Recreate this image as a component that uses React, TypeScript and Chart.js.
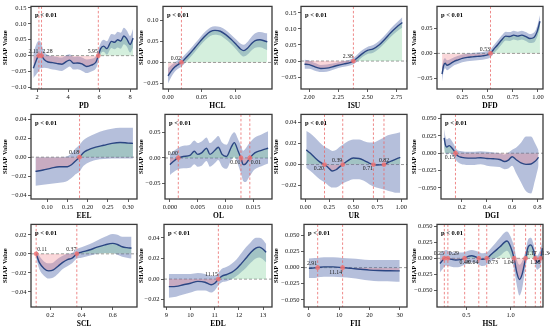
import React, { useEffect, useRef } from 'react';
import { Chart, registerables } from 'chart.js';
Chart.register(...registerables);

const FONT = '"Liberation Serif", "Times New Roman", serif';
const BAND = 'rgba(70,95,165,0.40)';
const LINE = '#2b4683';
const POS = 'rgba(120,205,150,0.32)';
const NEG = 'rgba(240,130,140,0.32)';

// ---------- DATA ----------
const PD_X = [1.75, 1.9, 2.0, 2.11, 2.2, 2.28, 2.45, 2.7, 3.0, 3.3, 3.6, 3.9, 4.1, 4.35, 4.6, 4.9, 5.2, 5.5, 5.8, 5.95, 6.1, 6.3, 6.5, 6.8, 7.0, 7.2, 7.4, 7.6, 7.8, 8.0, 8.2];
const PD_MEAN = [-0.040, -0.020, -0.008, 0, 0.004, 0, -0.012, -0.020, -0.022, -0.025, -0.027, -0.018, -0.014, -0.024, -0.023, -0.026, -0.034, -0.030, -0.020, 0, 0.022, 0.030, 0.022, 0.045, 0.042, 0.050, 0.046, 0.062, 0.052, 0.035, 0.055];
const PD_UP = [0.010, 0.030, 0.042, 0.047, 0.045, 0.035, 0.012, 0.002, -0.002, -0.004, -0.006, 0.002, 0.004, -0.004, -0.003, -0.006, -0.012, -0.010, -0.002, 0.018, 0.040, 0.050, 0.045, 0.068, 0.066, 0.075, 0.072, 0.088, 0.078, 0.062, 0.085];
const PD_LO = [-0.070, -0.062, -0.055, -0.048, -0.040, -0.040, -0.038, -0.040, -0.044, -0.046, -0.048, -0.040, -0.034, -0.044, -0.043, -0.048, -0.055, -0.050, -0.040, -0.020, 0.005, 0.012, 0.003, 0.024, 0.020, 0.026, 0.022, 0.036, 0.028, 0.010, 0.026];
const PD_CROSS = [2.11, 2.28, 5.95];

const HCL_X = [0.0, 0.005, 0.01, 0.015, 0.02, 0.025, 0.032, 0.04, 0.048, 0.056, 0.063, 0.07, 0.078, 0.086, 0.094, 0.102, 0.108, 0.113, 0.118, 0.124, 0.13, 0.137, 0.144, 0.148];
const HCL_MEAN = [-0.032, -0.020, -0.011, -0.005, 0, 0.008, 0.020, 0.035, 0.050, 0.064, 0.073, 0.076, 0.074, 0.066, 0.055, 0.042, 0.032, 0.028, 0.033, 0.044, 0.052, 0.054, 0.051, 0.049];
const HCL_UP = [-0.013, -0.006, 0.000, 0.006, 0.010, 0.018, 0.030, 0.045, 0.060, 0.074, 0.083, 0.086, 0.084, 0.077, 0.066, 0.054, 0.045, 0.042, 0.048, 0.060, 0.069, 0.072, 0.070, 0.069];
const HCL_LO = [-0.050, -0.034, -0.022, -0.015, -0.010, -0.002, 0.010, 0.025, 0.040, 0.054, 0.063, 0.066, 0.064, 0.055, 0.044, 0.030, 0.019, 0.014, 0.018, 0.028, 0.035, 0.036, 0.032, 0.029];
const HCL_CROSS = [0.02];

const ISU_X = [1.96, 2.0, 2.05, 2.1, 2.15, 2.2, 2.25, 2.3, 2.35, 2.38, 2.42, 2.46, 2.5, 2.55, 2.6, 2.65, 2.7, 2.75, 2.8];
const ISU_MEAN = [-0.010, -0.011, -0.018, -0.023, -0.022, -0.018, -0.013, -0.009, -0.005, 0, 0.012, 0.024, 0.033, 0.038, 0.050, 0.068, 0.088, 0.105, 0.120];
const ISU_UP = [0.004, 0.002, -0.006, -0.012, -0.011, -0.008, -0.004, 0.000, 0.004, 0.010, 0.023, 0.035, 0.044, 0.050, 0.062, 0.080, 0.101, 0.119, 0.136];
const ISU_LO = [-0.024, -0.024, -0.030, -0.034, -0.033, -0.028, -0.022, -0.018, -0.014, -0.010, 0.001, 0.013, 0.022, 0.026, 0.038, 0.056, 0.075, 0.091, 0.104];
const ISU_CROSS = [2.38];

const DFD_X = [0.05, 0.065, 0.08, 0.1, 0.13, 0.17, 0.21, 0.25, 0.3, 0.35, 0.4, 0.45, 0.5, 0.53, 0.56, 0.6, 0.64, 0.68, 0.72, 0.76, 0.8, 0.84, 0.88, 0.92, 0.96, 0.99, 1.02];
const DFD_MEAN = [-0.042, -0.025, -0.020, -0.024, -0.021, -0.016, -0.013, -0.010, -0.008, -0.007, -0.006, -0.005, -0.003, 0, 0.008, 0.017, 0.027, 0.035, 0.034, 0.037, 0.035, 0.037, 0.034, 0.030, 0.032, 0.043, 0.065];
const DFD_UP = [-0.028, -0.013, -0.010, -0.014, -0.012, -0.008, -0.005, -0.002, 0.000, 0.001, 0.002, 0.003, 0.005, 0.008, 0.016, 0.026, 0.036, 0.044, 0.043, 0.046, 0.044, 0.046, 0.043, 0.039, 0.042, 0.054, 0.077];
const DFD_LO = [-0.057, -0.037, -0.030, -0.034, -0.030, -0.024, -0.021, -0.018, -0.016, -0.015, -0.014, -0.013, -0.011, -0.008, 0.000, 0.008, 0.018, 0.026, 0.025, 0.028, 0.026, 0.028, 0.025, 0.021, 0.022, 0.032, 0.053];
const DFD_CROSS = [0.53];

const EEL_X = [0.071, 0.09, 0.11, 0.13, 0.15, 0.16, 0.17, 0.18, 0.19, 0.2, 0.22, 0.24, 0.26, 0.28, 0.30, 0.312];
const EEL_MEAN = [-0.015, -0.0135, -0.0115, -0.010, -0.010, -0.008, -0.004, 0, 0.005, 0.0075, 0.0105, 0.0125, 0.0145, 0.0155, 0.0148, 0.0145];
const EEL_UP = [0.000, 0.000, 0.000, 0.000, 0.001, 0.004, 0.009, 0.013, 0.018, 0.021, 0.025, 0.028, 0.030, 0.031, 0.031, 0.031];
const EEL_LO = [-0.030, -0.029, -0.028, -0.027, -0.025, -0.022, -0.018, -0.015, -0.009, -0.006, -0.003, -0.002, -0.0015, -0.0015, -0.0015, -0.0015];
const EEL_CROSS = [0.18];

const OL_X = [0.0, 0.0006, 0.0015, 0.0024, 0.0036, 0.0044, 0.005, 0.0057, 0.0066, 0.0072, 0.0081, 0.0087, 0.0094, 0.0102, 0.011, 0.0116, 0.0123, 0.0128, 0.0132, 0.0136, 0.0144, 0.0153, 0.0165, 0.0177];
const OL_MEAN = [-0.013, -0.007, 0, 0.003, 0.005, 0.013, 0.007, 0.010, 0.019, 0.007, 0.015, 0.021, 0.007, 0.003, 0.020, 0.030, 0.013, 0, -0.013, -0.012, 0, 0.010, 0.015, 0.019];
const OL_UP = [0.007, 0.013, 0.020, 0.024, 0.026, 0.034, 0.029, 0.032, 0.040, 0.029, 0.037, 0.043, 0.030, 0.026, 0.043, 0.050, 0.036, 0.024, 0.014, 0.018, 0.030, 0.040, 0.046, 0.052];
const OL_LO = [-0.033, -0.028, -0.022, -0.020, -0.019, -0.012, -0.017, -0.015, -0.006, -0.017, -0.010, -0.004, -0.017, -0.021, -0.005, 0.003, -0.014, -0.030, -0.045, -0.047, -0.035, -0.022, -0.016, -0.011];
const OL_CROSS = [0.0015, 0.0128, 0.0144];

const UR_X = [0.01, 0.05, 0.1, 0.15, 0.2, 0.24, 0.28, 0.32, 0.36, 0.39, 0.44, 0.5, 0.56, 0.62, 0.67, 0.71, 0.74, 0.78, 0.82, 0.86, 0.9, 0.95, 0.99];
const UR_MEAN = [0.014, 0.011, 0.0065, 0.0025, 0, -0.003, -0.0062, -0.005, -0.002, 0, 0.0035, 0.0062, 0.0058, 0.0035, 0.0012, 0, -0.0004, -0.0003, 0, 0.0018, 0.0035, 0.0055, 0.0068];
const UR_UP = [0.032, 0.030, 0.026, 0.021, 0.017, 0.015, 0.013, 0.014, 0.017, 0.019, 0.022, 0.024, 0.024, 0.022, 0.021, 0.021, 0.022, 0.024, 0.026, 0.028, 0.029, 0.030, 0.031];
const UR_LO = [-0.003, -0.006, -0.010, -0.014, -0.017, -0.020, -0.022, -0.022, -0.020, -0.018, -0.016, -0.014, -0.014, -0.016, -0.019, -0.021, -0.022, -0.023, -0.024, -0.025, -0.026, -0.027, -0.027];
const UR_CROSS = [0.2, 0.39, 0.71, 0.82];

const DGI_X = [0.06, 0.07, 0.08, 0.1, 0.12, 0.14, 0.15, 0.17, 0.2, 0.25, 0.3, 0.35, 0.4, 0.45, 0.5, 0.54, 0.57, 0.6, 0.63, 0.67, 0.71, 0.75, 0.78, 0.81];
const DGI_MEAN = [0.022, 0.012, 0.009, 0.011, 0.008, 0.003, 0, -0.004, -0.006, -0.007, -0.007, -0.0065, -0.0075, -0.008, -0.009, -0.012, -0.010, -0.005, -0.009, -0.014, -0.016, -0.0155, -0.012, -0.006];
const DGI_UP = [0.035, 0.024, 0.020, 0.022, 0.018, 0.012, 0.008, 0.004, 0.003, 0.002, 0.002, 0.003, 0.002, 0.001, 0.000, -0.002, 0.001, 0.005, 0.008, 0.015, 0.024, 0.024, 0.015, 0.004];
const DGI_LO = [0.008, 0.000, -0.002, 0.000, -0.002, -0.006, -0.009, -0.013, -0.016, -0.017, -0.017, -0.016, -0.018, -0.019, -0.020, -0.023, -0.022, -0.018, -0.028, -0.042, -0.055, -0.058, -0.040, -0.018];
const DGI_CROSS = [0.15];

const SCL_X = [0.11, 0.13, 0.16, 0.19, 0.22, 0.25, 0.28, 0.31, 0.34, 0.37, 0.4, 0.45, 0.5, 0.55, 0.6, 0.63, 0.66, 0.69, 0.72];
const SCL_MEAN = [0, -0.009, -0.0155, -0.018, -0.017, -0.013, -0.009, -0.006, -0.0045, 0, 0.0018, 0.004, 0.007, 0.0095, 0.011, 0.0098, 0.0075, 0.0065, 0.006];
const SCL_UP = [0.004, -0.002, -0.008, -0.010, -0.009, -0.005, -0.002, 0.000, 0.001, 0.005, 0.007, 0.010, 0.014, 0.018, 0.021, 0.020, 0.018, 0.018, 0.018];
const SCL_LO = [-0.005, -0.016, -0.023, -0.026, -0.025, -0.021, -0.016, -0.013, -0.010, -0.005, -0.004, -0.002, 0.000, 0.001, 0.001, -0.001, -0.003, -0.004, -0.005];
const SCL_CROSS = [0.11, 0.37];

const EDL_X = [9.1, 9.4, 9.7, 10.0, 10.3, 10.6, 10.85, 11.0, 11.15, 11.3, 11.5, 11.7, 11.9, 12.1, 12.3, 12.5, 12.7, 12.85, 13.0, 13.13];
const EDL_MEAN = [-0.0073, -0.007, -0.0055, -0.004, -0.0022, -0.003, -0.0055, -0.004, 0, 0.003, 0.0045, 0.0065, 0.010, 0.015, 0.0205, 0.026, 0.030, 0.031, 0.029, 0.026];
const EDL_UP = [0.005, 0.005, 0.005, 0.005, 0.006, 0.005, 0.003, 0.003, 0.006, 0.010, 0.012, 0.015, 0.019, 0.025, 0.031, 0.036, 0.040, 0.040, 0.038, 0.034];
const EDL_LO = [-0.018, -0.017, -0.015, -0.013, -0.011, -0.011, -0.013, -0.011, -0.006, -0.003, -0.002, 0.000, 0.003, 0.007, 0.011, 0.016, 0.020, 0.021, 0.019, 0.016];
const EDL_CROSS = [11.15];

const FII_X = [0, 2, 2.91, 5, 8, 11.14, 14, 17, 20, 23, 26, 29, 30];
const FII_MEAN = [-0.0012, -0.0004, 0, 0.0012, 0.0012, 0, -0.0012, -0.0025, -0.0038, -0.0045, -0.0048, -0.005, -0.005];
const FII_UP = [0.014, 0.015, 0.015, 0.016, 0.016, 0.015, 0.014, 0.013, 0.012, 0.012, 0.012, 0.012, 0.012];
const FII_LO = [-0.016, -0.016, -0.015, -0.014, -0.014, -0.015, -0.016, -0.018, -0.020, -0.021, -0.021, -0.022, -0.022];
const FII_CROSS = [2.91, 11.14];

const HSL_X = [0.2, 0.225, 0.25, 0.27, 0.29, 0.33, 0.38, 0.43, 0.48, 0.52, 0.56, 0.6, 0.64, 0.68, 0.73, 0.78, 0.83, 0.88, 0.93, 0.96, 1.0, 1.04, 1.07, 1.1, 1.13, 1.17, 1.2, 1.23, 1.26, 1.28, 1.3, 1.32, 1.34, 1.36];
const HSL_MEAN = [-0.008, -0.004, 0, 0.0015, 0, -0.0015, -0.0025, -0.002, 0, 0.003, 0.004, 0.0025, 0, -0.0015, 0, 0.006, 0.012, 0.018, 0.025, 0.027, 0.018, 0, -0.022, -0.033, -0.025, 0, 0.018, 0.021, 0.012, 0, -0.0065, -0.004, 0, 0.016];
const HSL_UP = [0.008, 0.010, 0.012, 0.013, 0.012, 0.010, 0.009, 0.009, 0.010, 0.012, 0.013, 0.012, 0.010, 0.008, 0.009, 0.016, 0.024, 0.032, 0.040, 0.042, 0.034, 0.018, -0.002, -0.010, -0.005, 0.012, 0.030, 0.032, 0.022, 0.010, 0.004, 0.008, 0.014, 0.028];
const HSL_LO = [-0.022, -0.018, -0.013, -0.011, -0.012, -0.013, -0.014, -0.013, -0.010, -0.007, -0.006, -0.007, -0.010, -0.012, -0.010, -0.004, 0.000, 0.004, 0.010, 0.012, 0.003, -0.018, -0.042, -0.058, -0.048, -0.014, 0.006, 0.010, 0.002, -0.010, -0.018, -0.016, -0.012, 0.004];
const HSL_CROSS = [0.25, 0.29, 0.48, 0.64, 0.73, 1.04, 1.17, 1.28, 1.34];

// tick values
const PD_XT = [2, 4, 6, 8];            const PD_YT = [-0.10, -0.05, 0, 0.05, 0.10, 0.15];
const HCL_XT = [0, 0.05, 0.10];        const HCL_YT = [-0.05, 0, 0.05, 0.10];
const ISU_XT = [2.0, 2.25, 2.5, 2.75]; const ISU_YT = [-0.05, 0, 0.05, 0.10, 0.15];
const DFD_XT = [0.25, 0.5, 0.75, 1.0]; const DFD_YT = [-0.05, 0, 0.05];
const EEL_XT = [0.10, 0.15, 0.20, 0.25, 0.30]; const EEL_YT = [-0.04, -0.02, 0, 0.02, 0.04];
const OL_XT = [0, 0.005, 0.010, 0.015]; const OL_YT = [-0.05, 0, 0.05];
const UR_XT = [0, 0.25, 0.5, 0.75, 1.0]; const UR_YT = [-0.02, 0, 0.02, 0.04];
const DGI_XT = [0.2, 0.4, 0.6, 0.8];   const DGI_YT = [-0.05, -0.025, 0, 0.025, 0.05];
const SCL_XT = [0.2, 0.4, 0.6];        const SCL_YT = [-0.04, -0.02, 0, 0.02];
const EDL_XT = [9, 10, 11, 12, 13];    const EDL_YT = [-0.02, 0, 0.02, 0.04];
const FII_XT = [0, 10, 20, 30];        const FII_YT = [-0.05, -0.025, 0, 0.025, 0.05];
const HSL_XT = [0.5, 1.0];             const HSL_YT = [-0.05, -0.025, 0, 0.025, 0.05];

type Spec = {
  name: string; x: number[]; mean: number[]; up: number[]; lo: number[]; cross: number[];
  xt: number[]; yt: number[]; xd: number; yd: number; xr: number[]; yr: number[];
};

const SPECS: Spec[] = [
  { name: 'PD', x: PD_X, mean: PD_MEAN, up: PD_UP, lo: PD_LO, cross: PD_CROSS, xt: PD_XT, yt: PD_YT, xd: 0, yd: 2, xr: [1.6, 8.45], yr: [-0.105, 0.155] },
  { name: 'HCL', x: HCL_X, mean: HCL_MEAN, up: HCL_UP, lo: HCL_LO, cross: HCL_CROSS, xt: HCL_XT, yt: HCL_YT, xd: 2, yd: 2, xr: [-0.0075, 0.155], yr: [-0.063, 0.133] },
  { name: 'ISU', x: ISU_X, mean: ISU_MEAN, up: ISU_UP, lo: ISU_LO, cross: ISU_CROSS, xt: ISU_XT, yt: ISU_YT, xd: 2, yd: 2, xr: [1.93, 2.84], yr: [-0.087, 0.17] },
  { name: 'DFD', x: DFD_X, mean: DFD_MEAN, up: DFD_UP, lo: DFD_LO, cross: DFD_CROSS, xt: DFD_XT, yt: DFD_YT, xd: 2, yd: 2, xr: [0.0, 1.05], yr: [-0.072, 0.095] },
  { name: 'EEL', x: EEL_X, mean: EEL_MEAN, up: EEL_UP, lo: EEL_LO, cross: EEL_CROSS, xt: EEL_XT, yt: EEL_YT, xd: 2, yd: 2, xr: [0.06, 0.322], yr: [-0.044, 0.045] },
  { name: 'OL', x: OL_X, mean: OL_MEAN, up: OL_UP, lo: OL_LO, cross: OL_CROSS, xt: OL_XT, yt: OL_YT, xd: 3, yd: 2, xr: [-0.0009, 0.0184], yr: [-0.08, 0.085] },
  { name: 'UR', x: UR_X, mean: UR_MEAN, up: UR_UP, lo: UR_LO, cross: UR_CROSS, xt: UR_XT, yt: UR_YT, xd: 2, yd: 2, xr: [-0.045, 1.06], yr: [-0.033, 0.048] },
  { name: 'DGI', x: DGI_X, mean: DGI_MEAN, up: DGI_UP, lo: DGI_LO, cross: DGI_CROSS, xt: DGI_XT, yt: DGI_YT, xd: 1, yd: 3, xr: [0.035, 0.845], yr: [-0.066, 0.056] },
  { name: 'SCL', x: SCL_X, mean: SCL_MEAN, up: SCL_UP, lo: SCL_LO, cross: SCL_CROSS, xt: SCL_XT, yt: SCL_YT, xd: 1, yd: 2, xr: [0.077, 0.755], yr: [-0.056, 0.031] },
  { name: 'EDL', x: EDL_X, mean: EDL_MEAN, up: EDL_UP, lo: EDL_LO, cross: EDL_CROSS, xt: EDL_XT, yt: EDL_YT, xd: 0, yd: 2, xr: [8.9, 13.37], yr: [-0.027, 0.053] },
  { name: 'FII', x: FII_X, mean: FII_MEAN, up: FII_UP, lo: FII_LO, cross: FII_CROSS, xt: FII_XT, yt: FII_YT, xd: 0, yd: 3, xr: [-1.6, 32.4], yr: [-0.061, 0.067] },
  { name: 'HSL', x: HSL_X, mean: HSL_MEAN, up: HSL_UP, lo: HSL_LO, cross: HSL_CROSS, xt: HSL_XT, yt: HSL_YT, xd: 1, yd: 3, xr: [0.167, 1.367], yr: [-0.076, 0.053] },
];

// ---------- LAYOUT (plot-area rect, y-axis width, right pad, label placement) ----------
type Lay = { rect: number[]; yW: number; padR: number; lab: string[] };
const LAYOUT: Lay[] = [
  { rect: [31, 5, 137, 89], yW: 30, padR: 4, lab: ['la', 'ra', 'la'] },
  { rect: [163, 5, 272, 89], yW: 26, padR: 4, lab: ['la'] },
  { rect: [301, 5, 407, 89], yW: 29, padR: 4, lab: ['la'] },
  { rect: [437, 5, 543, 89], yW: 27, padR: 7, lab: ['la'] },
  { rect: [31, 113, 137, 199], yW: 30, padR: 4, lab: ['la'] },
  { rect: [165, 113, 272, 199], yW: 28, padR: 4, lab: ['la', 'lb', 'rb'] },
  { rect: [301, 113, 407, 199], yW: 29, padR: 4, lab: ['lb', 'la', 'lb', 'ca'] },
  { rect: [441, 113, 543, 199], yW: 31, padR: 7, lab: ['lb'] },
  { rect: [31, 223, 137, 307], yW: 30, padR: 4, lab: ['ra', 'la'] },
  { rect: [164, 223, 272, 307], yW: 27, padR: 4, lab: ['la'] },
  { rect: [304, 223, 407, 307], yW: 32, padR: 4, lab: ['la', 'lb'] },
  { rect: [437, 223, 543, 307], yW: 27, padR: 7, lab: ['la', 'ra', 'cb', 'lb', 'rb', 'lb', 'ra', 'cb', 'ra'] },
];

const fmt = (v: number, d: number) => {
  const s = Math.abs(v) < 1e-12 ? (0).toFixed(d) : v.toFixed(d);
  return s.replace('-', '\u2212');
};

const deco = {
  id: 'deco',
  beforeDatasetsDraw(chart: any) {
    const { ctx, chartArea: a, scales } = chart;
    const y0 = scales.y.getPixelForValue(0);
    ctx.save();
    ctx.setLineDash([3, 2]);
    ctx.strokeStyle = '#8c8c8c';
    ctx.lineWidth = 0.9;
    ctx.beginPath();
    ctx.moveTo(a.left, y0);
    ctx.lineTo(a.right, y0);
    ctx.stroke();
    ctx.restore();
  },
  afterDatasetsDraw(chart: any, _args: any, opts: any) {
    const { ctx, chartArea: a, scales } = chart;
    const xs = scales.x, ys = scales.y;
    const cross: number[] = opts.cross || [];
    const lab: string[] = opts.lab || [];
    const y0 = ys.getPixelForValue(0);
    ctx.save();
    ctx.setLineDash([2.5, 2]);
    ctx.strokeStyle = 'rgba(232,100,100,0.85)';
    ctx.lineWidth = 0.9;
    for (const c of cross) {
      const px = xs.getPixelForValue(c);
      ctx.beginPath();
      ctx.moveTo(px, a.top);
      ctx.lineTo(px, a.bottom);
      ctx.stroke();
    }
    ctx.setLineDash([]);
    ctx.fillStyle = 'rgba(240,115,115,0.85)';
    for (const c of cross) {
      const px = xs.getPixelForValue(c);
      ctx.beginPath();
      ctx.arc(px, y0, 2.4, 0, Math.PI * 2);
      ctx.fill();
    }
    ctx.fillStyle = '#222';
    ctx.font = `5.8px ${FONT}`;
    cross.forEach((c, i) => {
      const px = xs.getPixelForValue(c);
      const p = lab[i] || 'la';
      const h = p[0], v = p[1];
      ctx.textAlign = h === 'l' ? 'right' : h === 'r' ? 'left' : 'center';
      ctx.textBaseline = v === 'a' ? 'bottom' : 'top';
      const tx = h === 'l' ? px - 0.5 : h === 'r' ? px + 1 : px;
      const ty = v === 'a' ? y0 - 1.5 : y0 + 1.5;
      ctx.fillText(c.toFixed(2), tx, ty);
    });
    ctx.font = `bold 6.5px ${FONT}`;
    ctx.fillStyle = '#000';
    ctx.textAlign = 'left';
    ctx.textBaseline = 'middle';
    ctx.fillText('p < 0.01', a.left + 4, a.top + 8.5);
    ctx.strokeStyle = '#3a3a3a';
    ctx.lineWidth = 1.3;
    ctx.strokeRect(a.left, a.top, a.right - a.left, a.bottom - a.top);
    ctx.restore();
  },
};

function buildConfig(s: Spec, l: Lay): any {
  const pts = (ys: number[]) => s.x.map((v, i) => ({ x: v, y: ys[i] }));
  const tickFont = { family: FONT, size: 6.5 };
  const grid = { display: true, drawOnChartArea: false, drawTicks: true, tickLength: 3, color: '#333', lineWidth: 0.8 };
  return {
    type: 'line',
    data: {
      datasets: [
        { data: pts(s.mean), borderColor: LINE, borderWidth: 1.4, pointRadius: 0, cubicInterpolationMode: 'monotone',
          fill: { target: { value: 0 }, above: POS, below: NEG } },
        { data: pts(s.up), borderColor: 'rgba(0,0,0,0)', borderWidth: 0.01, pointRadius: 0, cubicInterpolationMode: 'monotone',
          fill: '+1', backgroundColor: BAND },
        { data: pts(s.lo), borderColor: 'rgba(0,0,0,0)', borderWidth: 0.01, pointRadius: 0, cubicInterpolationMode: 'monotone', fill: false },
      ],
    },
    options: {
      responsive: false,
      animation: false,
      events: [],
      layout: { padding: { left: 0, top: 4, right: l.padR, bottom: 0 } },
      plugins: { legend: { display: false }, tooltip: { enabled: false }, deco: { cross: s.cross, lab: l.lab } },
      scales: {
        x: {
          type: 'linear', min: s.xr[0], max: s.xr[1],
          afterBuildTicks: (sc: any) => { sc.ticks = s.xt.map((v) => ({ value: v })); },
          afterFit: (sc: any) => { sc.height = 22; },
          ticks: { font: tickFont, color: '#111', padding: 1.5, maxRotation: 0, autoSkip: false, callback: (v: any) => fmt(Number(v), s.xd) },
          grid, border: { display: false },
          title: { display: true, text: s.name, color: '#000', padding: 0, font: { family: FONT, size: 7.5, weight: 'bold' } },
        },
        y: {
          type: 'linear', min: s.yr[0], max: s.yr[1],
          afterBuildTicks: (sc: any) => { sc.ticks = s.yt.map((v) => ({ value: v })); },
          afterFit: (sc: any) => { sc.width = l.yW; },
          ticks: { font: tickFont, color: '#111', padding: 1.5, autoSkip: false, callback: (v: any) => fmt(Number(v), s.yd) },
          grid, border: { display: false },
          title: { display: true, text: 'SHAP Value', color: '#000', padding: 0, font: { family: FONT, size: 6.5, weight: 'bold' } },
        },
      },
    },
    plugins: [deco],
  };
}

function Panel({ spec, lay }: { spec: Spec; lay: Lay }) {
  const ref = useRef<HTMLCanvasElement>(null);
  const [L, T, R, B] = lay.rect;
  const cl = L - lay.yW;
  const ct = T - 4;
  const w = R + lay.padR - cl;
  const h = B + 22 - ct;
  useEffect(() => {
    const c = new Chart(ref.current as HTMLCanvasElement, buildConfig(spec, lay));
    return () => c.destroy();
  }, []);
  return <canvas ref={ref} width={w} height={h} style={{ position: 'absolute', left: cl, top: ct, width: w, height: h }} />;
}

export default function App() {
  return (
    <div style={{ position: 'absolute', left: 0, top: 0, width: 550, height: 328, background: '#fff', overflow: 'hidden' }}>
      {SPECS.map((s, i) => <Panel key={s.name} spec={s} lay={LAYOUT[i]} />)}
    </div>
  );
}
